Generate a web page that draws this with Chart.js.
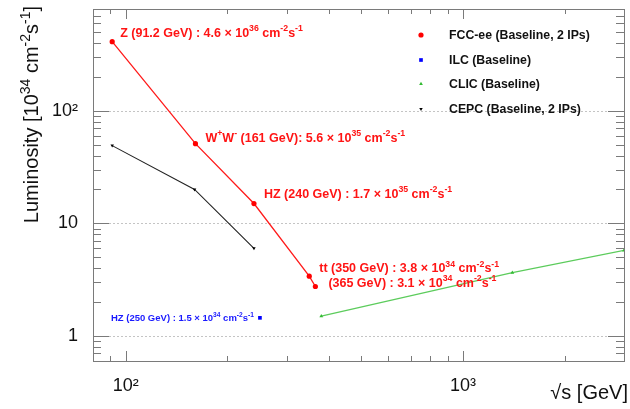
<!DOCTYPE html>
<html>
<head>
<meta charset="utf-8">
<script src="https://cdn.jsdelivr.net/npm/chart.js@4/dist/chart.umd.min.js"></script>
<style>
  html, body { margin: 0; padding: 0; background: #fff; }
  #lumiChart { display: block; }
</style>
</head>
<body>
<canvas id="lumiChart" width="630" height="409"></canvas>
<script>
'use strict';

// centre-of-mass energies [GeV] and luminosities [10^34 cm^-2 s^-1]
const fccEnergy = [91.2, 161, 240, 350, 365]
const fccLumi = [410, 51, 15, 3.4, 2.75]
const ilcEnergy = [250]
const ilcLumi = [1.45]
const clicEnergy = [380, 1400, 3000]
const clicLumi = [1.5, 3.65, 5.75]
const cepcEnergy = [91.2, 160, 240]
const cepcLumi = [49, 20, 6.0]

const seriesNames = ['FCC-ee (Baseline, 2 IPs)', 'ILC (Baseline)', 'CLIC (Baseline)', 'CEPC (Baseline, 2 IPs)']

const xTicks = [80, 90, 100, 200, 300, 400, 500, 600, 700, 800, 900, 1000, 2000, 3000]
const yTicks = [0.6, 0.7, 0.8, 0.9, 1, 2, 3, 4, 5, 6, 7, 8, 9, 10, 20, 30, 40, 50, 60, 70, 80, 90, 100, 200, 300, 400, 500, 600, 700, 800]
const xLabels = { 100: '10²', 1000: '10³' }
const yLabels = { 1: '1', 10: '10', 100: '10²' }

// labels next to the points: [series, point index, text]
const fccNotes = [
  [0, 0, 'Z (91.2 GeV) : 4.6 × 10^{36} cm^{-2}s^{-1}'],
  [0, 1, 'W^{+}W^{-} (161 GeV): 5.6 × 10^{35} cm^{-2}s^{-1}'],
  [0, 2, 'HZ (240 GeV) : 1.7 × 10^{35} cm^{-2}s^{-1}'],
  [0, 3, 'tt (350 GeV) : 3.8 × 10^{34} cm^{-2}s^{-1}'],
  [0, 4, '(365 GeV) : 3.1 × 10^{34} cm^{-2}s^{-1}']
]
const ilcNote = 'HZ (250 GeV) : 1.5 × 10^{34} cm^{-2}s^{-1}'

const FONT = "'Liberation Sans', Arial, Helvetica, sans-serif"

function toPoints(xs, ys) {
  return xs.map((x, i) => ({ x: x, y: ys[i] }))
}

// text with ^{...} superscripts
function drawRich(ctx, str, x, y, size, color, weight, align) {
  const parts = []
  const re = /\^\{([^}]*)\}/g
  let last = 0
  let m
  while ((m = re.exec(str)) !== null) {
    if (m.index > last) parts.push({ t: str.slice(last, m.index), sup: false })
    parts.push({ t: m[1], sup: true })
    last = re.lastIndex
  }
  if (last < str.length) parts.push({ t: str.slice(last), sup: false })

  const supSize = size * 0.7
  let total = 0
  for (let p of parts) {
    ctx.font = weight + ' ' + (p.sup ? supSize : size) + 'px ' + FONT
    p.w = ctx.measureText(p.t).width
    total += p.w
  }
  let cx = x
  if (align === 'right') cx = x - total
  ctx.fillStyle = color
  ctx.textAlign = 'left'
  ctx.textBaseline = 'alphabetic'
  for (let p of parts) {
    ctx.font = weight + ' ' + (p.sup ? supSize : size) + 'px ' + FONT
    ctx.fillText(p.t, cx, p.sup ? y - size * 0.42 : y)
    cx += p.w
  }
  return total
}

const frameAndText = {
  id: 'frameAndText',
  beforeDatasetsDraw(chart) {
    const ctx = chart.ctx
    const area = chart.chartArea
    const ys = chart.scales.y
    ctx.save()
    ctx.strokeStyle = '#c4c4c4'
    ctx.lineWidth = 1
    ctx.setLineDash([2, 2])
    for (let v of [1, 10, 100]) {
      const py = Math.round(ys.getPixelForValue(v)) + 0.5
      ctx.beginPath()
      ctx.moveTo(area.left, py)
      ctx.lineTo(area.right, py)
      ctx.stroke()
    }
    ctx.restore()
  },
  afterDraw(chart) {
    const ctx = chart.ctx
    const area = chart.chartArea
    const xs = chart.scales.x
    const ys = chart.scales.y
    ctx.save()

    // frame with inward ticks
    ctx.strokeStyle = '#7a7a7a'
    ctx.lineWidth = 1
    ctx.setLineDash([])
    ctx.strokeRect(area.left + 0.5, area.top + 0.5, area.right - area.left, area.bottom - area.top)
    ctx.beginPath()
    for (let v of yTicks) {
      const py = Math.round(ys.getPixelForValue(v)) + 0.5
      const len = yLabels[v] ? 16 : 8
      ctx.moveTo(area.left, py)
      ctx.lineTo(area.left + len, py)
      ctx.moveTo(area.right, py)
      ctx.lineTo(area.right - len, py)
    }
    for (let v of xTicks) {
      const px = Math.round(xs.getPixelForValue(v)) + 0.5
      const len = xLabels[v] ? 10 : 5
      ctx.moveTo(px, area.bottom)
      ctx.lineTo(px, area.bottom - len)
      ctx.moveTo(px, area.top)
      ctx.lineTo(px, area.top + len)
    }
    ctx.stroke()

    // point labels
    const offsets = [[8, -5], [10, -2], [10, -6], [10, -4], [13, 0]]
    fccNotes.forEach((n, i) => {
      const pt = chart.getDatasetMeta(n[0]).data[n[1]]
      drawRich(ctx, n[2], pt.x + offsets[i][0], pt.y + offsets[i][1], 12.5, '#ff1414', 'bold', 'left')
    })
    const ilcPt = chart.getDatasetMeta(1).data[0]
    drawRich(ctx, ilcNote, ilcPt.x - 6, ilcPt.y + 3.5, 9.5, '#1a1aff', 'bold', 'right')

    // legend
    const legX = 421
    const legY = [35, 60, 84, 109]
    chart.data.datasets.forEach((ds, i) => {
      ctx.fillStyle = ds.pointBackgroundColor
      ctx.strokeStyle = ds.pointBorderColor
      Chart.helpers.drawPoint(ctx, {
        pointStyle: ds.pointStyle,
        rotation: ds.pointRotation || 0,
        radius: ds.pointRadius,
        borderWidth: 0
      }, legX, legY[i])
      ctx.fillStyle = '#111'
      ctx.font = 'bold 12.3px ' + FONT
      ctx.textAlign = 'left'
      ctx.textBaseline = 'middle'
      ctx.fillText(ds.label, 449, legY[i] + 1)
    })

    // axis titles
    ctx.save()
    ctx.translate(38, 6)
    ctx.rotate(-Math.PI / 2)
    drawRich(ctx, 'Luminosity [10^{34} cm^{-2}s^{-1}]', 0, 0, 20, '#111', 'normal', 'right')
    ctx.restore()
    ctx.fillStyle = '#111'
    ctx.font = '20px ' + FONT
    ctx.textAlign = 'right'
    ctx.textBaseline = 'alphabetic'
    ctx.fillText('√s [GeV]', 628, 399)

    ctx.restore()
  }
}

const ctx = document.getElementById('lumiChart')

const lumiChart = new Chart(ctx, {
  type: 'line',
  data: {
    datasets: [
      {
        label: seriesNames[0],
        data: toPoints(fccEnergy, fccLumi),
        borderColor: '#ff1a1a',
        borderWidth: 1.3,
        pointStyle: 'circle',
        pointRadius: 2.6,
        pointBackgroundColor: '#ff0000',
        pointBorderColor: '#ff0000',
        pointBorderWidth: 0
      },
      {
        label: seriesNames[1],
        data: toPoints(ilcEnergy, ilcLumi),
        showLine: false,
        pointStyle: 'rect',
        pointRadius: 2.6,
        pointBackgroundColor: '#0000ff',
        pointBorderColor: '#0000ff',
        pointBorderWidth: 0
      },
      {
        label: seriesNames[2],
        data: toPoints(clicEnergy, clicLumi),
        borderColor: '#5ccc5c',
        borderWidth: 1.3,
        pointStyle: 'triangle',
        pointRadius: 2.2,
        pointBackgroundColor: '#33bb33',
        pointBorderColor: '#33bb33',
        pointBorderWidth: 0
      },
      {
        label: seriesNames[3],
        data: toPoints(cepcEnergy, cepcLumi),
        borderColor: '#222',
        borderWidth: 1.1,
        pointStyle: 'triangle',
        pointRotation: 180,
        pointRadius: 2,
        pointBackgroundColor: '#000',
        pointBorderColor: '#000',
        pointBorderWidth: 0
      }
    ]
  },
  options: {
    responsive: false,
    animation: false,
    events: [],
    layout: { padding: { left: 0, right: 6, top: 9, bottom: 0 } },
    plugins: {
      legend: { display: false },
      tooltip: { enabled: false }
    },
    elements: { line: { tension: 0 } },
    scales: {
      x: {
        type: 'logarithmic',
        min: 80,
        max: 3000,
        afterBuildTicks: (s) => { s.ticks = xTicks.map(v => ({ value: v })) },
        afterFit: (s) => {
          s.height = 48
          s.paddingLeft = 0
          s.paddingRight = 0
        },
        grid: { display: false },
        border: { display: false },
        ticks: {
          autoSkip: false,
          maxRotation: 0,
          padding: 6,
          color: '#111',
          font: { family: FONT, size: 18 },
          callback: (v) => xLabels[v] || ''
        }
      },
      y: {
        type: 'logarithmic',
        min: 0.6,
        max: 800,
        afterBuildTicks: (s) => { s.ticks = yTicks.map(v => ({ value: v })) },
        afterFit: (s) => {
          s.width = 93
          s.paddingTop = 0
          s.paddingBottom = 0
        },
        grid: { display: false },
        border: { display: false },
        ticks: {
          autoSkip: false,
          padding: 7,
          color: '#111',
          font: { family: FONT, size: 18 },
          callback: (v) => yLabels[v] || ''
        }
      }
    }
  },
  plugins: [frameAndText]
})
</script>
</body>
</html>
